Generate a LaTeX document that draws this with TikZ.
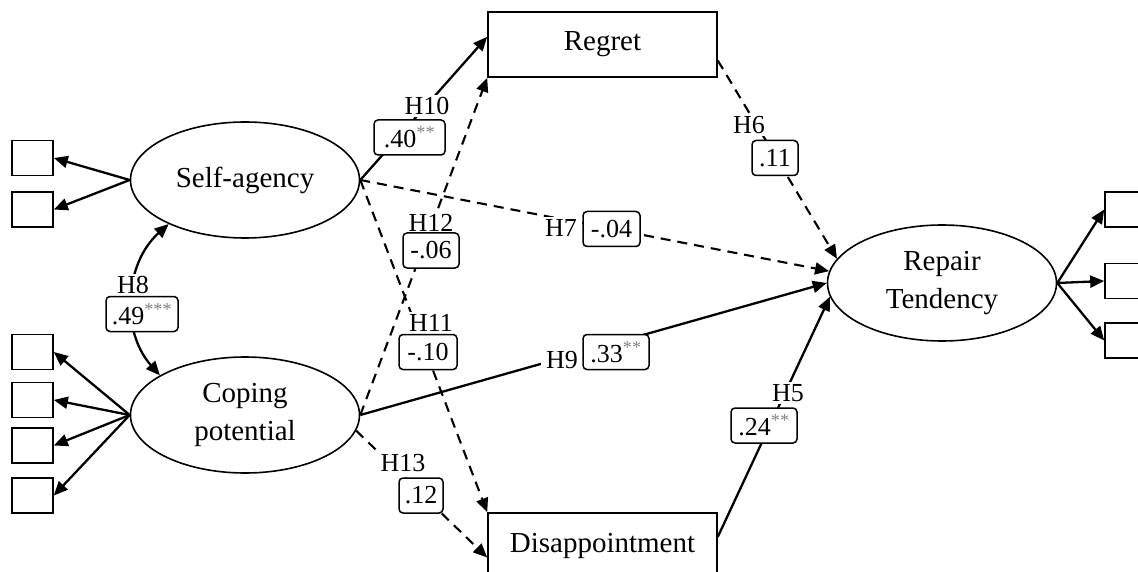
\documentclass[tikz,border=0pt]{standalone}
\usepackage{fontspec}
\setmainfont{Liberation Serif}
\usetikzlibrary{shapes.geometric,arrows.meta,calc}
\newcommand{\stars}[1]{\textsuperscript{\color{gray}#1}}
\begin{document}
\begin{tikzpicture}[x=1pt,y=-1pt,
  lat/.style={ellipse,draw,line width=1.6pt,minimum width=229pt,minimum height=116pt,inner sep=0pt,align=center,font=\fontsize{29}{38}\selectfont},
  obsbox/.style={draw,line width=1.6pt,minimum width=229pt,minimum height=65pt,inner sep=0pt,font=\fontsize{29}{38}\selectfont},
  ind/.style={draw,line width=1.6pt,minimum width=41pt,minimum height=35pt,inner sep=0pt},
  arr/.style={line width=2.3pt,-{Triangle[length=14pt,width=12pt]}},
  darr/.style={arr,line width=2.1pt,dash pattern=on 10pt off 7pt},
  dbl/.style={line width=2.3pt,{Triangle[length=14pt,width=12pt]}-{Triangle[length=14pt,width=12pt]}},
  hlab/.style={fill=white,inner xsep=5pt,inner ysep=2pt,font=\fontsize{26}{30}\selectfont},
  vbox/.style={draw,rounded corners=4pt,line width=1.5pt,fill=white,inner xsep=2pt,inner ysep=0pt,minimum height=35pt,font=\fontsize{26}{30}\selectfont},
]
\useasboundingbox (0,0) rectangle (1138,572);
\clip (0,0) rectangle (1138,572);

% latent variables
\node[lat] (sa) at (245,180) {Self-agency};
\node[lat] (cp) at (245,415) {Coping\\potential};
\node[lat] (rt) at (942,283) {Repair\\Tendency};
\node[obsbox] (rg) at (602.5,44.5) {Regret};
\node[obsbox] (dp) at (602.5,545.5) {Disappointment};

% indicators
\node[ind] (s1) at (32.5,158) {};
\node[ind] (s2) at (32.5,209.5) {};
\node[ind] (c1) at (32.5,352) {};
\node[ind] (c2) at (32.5,400) {};
\node[ind] (c3) at (32.5,445.5) {};
\node[ind] (c4) at (32.5,495.5) {};
\node[ind] (r1) at (1125.5,209.5) {};
\node[ind] (r2) at (1125.5,281) {};
\node[ind] (r3) at (1125.5,340.5) {};

\foreach \t in {s1,s2} \draw[arr] (sa.west) -- (\t.east);
\foreach \t in {c1,c2,c3,c4} \draw[arr] (cp.west) -- (\t.east);
\foreach \t in {r1,r2,r3} \draw[arr] (rt.east) -- (\t.west);

% structural paths
\draw[arr] (sa.east) -- ($(rg.north west)!0.385!(rg.south west)$);
\draw[darr] (cp.east) -- (rg.south west);
\draw[darr] (sa.east) -- (rt.174);
\draw[darr] (sa.east) -- (dp.north west);
\draw[arr] (cp.east) -- (rt.west);
\draw[darr] (cp.-8) -- ($(dp.north west)!0.68!(dp.south west)$);
\draw[darr] ($(rg.north east)!0.74!(rg.south east)$) -- (rt.167);
\draw[arr] ($(dp.north east)!0.37!(dp.south east)$) -- (rt.187);
\draw[dbl] (cp.155) to[bend left=45] (sa.210);

% labels
\node[hlab] (h10) at (427,106) {H10};
\node[vbox,minimum width=71pt] (v10) at (409.5,137.5) {.40\stars{**}};
\node[hlab] (h12) at (431,223) {H12};
\node[vbox,minimum width=56pt] (v12) at (431,250.5) {-.06};
\node[hlab] (h7) at (561,228) {H7};
\node[vbox,minimum width=57pt] (v7) at (611.5,229) {-.04};
\node[hlab] (h11) at (431,323) {H11};
\node[vbox,minimum width=58pt] (v11) at (428,352) {-.10};
\node[hlab] (h9) at (562,360) {H9};
\node[vbox,minimum width=66pt] (v9) at (616,352) {.33\stars{**}};
\node[hlab] (h13) at (403,463) {H13};
\node[vbox,minimum width=44pt] (v13) at (421,495.5) {.12};
\node[hlab] (h5) at (788,393) {H5};
\node[vbox,minimum width=66pt] (v5) at (764,425.5) {.24\stars{**}};
\node[hlab] (h6) at (749,125) {H6};
\node[vbox,minimum width=46pt] (v6) at (775,158) {.11};
\node[hlab] (h8) at (133,285) {H8};
\node[vbox,minimum width=72pt] (v8) at (142,314) {.49\stars{***}};
\end{tikzpicture}
\end{document}
